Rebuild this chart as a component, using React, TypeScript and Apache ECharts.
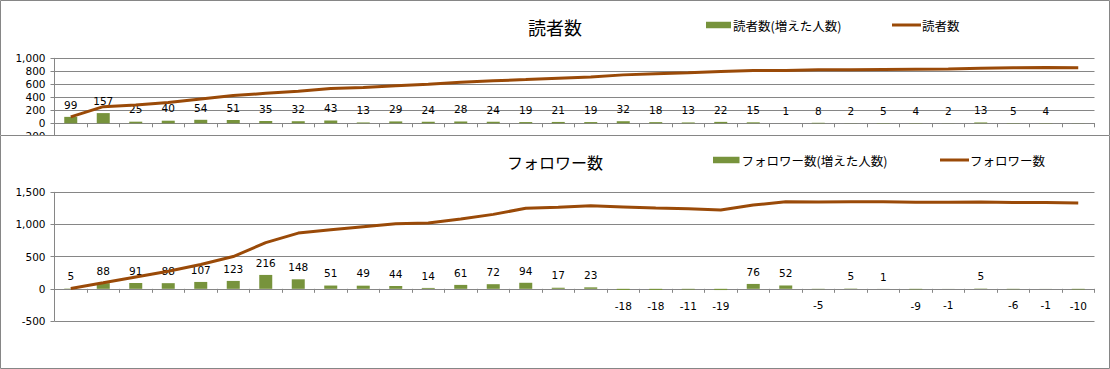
import React, { useEffect, useRef } from "react";
import * as echarts from "echarts";

const categories = ["1", "2", "3", "4", "5", "6", "7", "8", "9", "10", "11", "12", "13", "14", "15", "16", "17", "18", "19", "20", "21", "22", "23", "24", "25", "26", "27", "28", "29", "30", "31", "32"];

const readerGain = [99, 157, 25, 40, 54, 51, 35, 32, 43, 13, 29, 24, 28, 24, 19, 21, 19, 32, 18, 13, 22, 15, 1, 8, 2, 5, 4, 2, 13, 5, 4, -2];
const readerTotal = [99, 256, 281, 321, 375, 426, 461, 493, 536, 549, 578, 602, 630, 654, 673, 694, 713, 745, 763, 776, 798, 813, 814, 822, 824, 829, 833, 835, 848, 853, 857, 855];

const followerGain = [5, 88, 91, 88, 107, 123, 216, 148, 51, 49, 44, 14, 61, 72, 94, 17, 23, -18, -18, -11, -19, 76, 52, -5, 5, 1, -9, -1, 5, -6, -1, -10];
const followerTotal = [5, 93, 184, 272, 379, 502, 718, 866, 917, 966, 1010, 1024, 1085, 1157, 1251, 1268, 1291, 1273, 1255, 1244, 1225, 1301, 1353, 1348, 1353, 1354, 1345, 1344, 1349, 1343, 1342, 1332];

const readerTicks = { min: -200, max: 1000, interval: 200 };
const followerTicks = { min: -500, max: 1500, interval: 500 };

const GREEN = "#77933C";
const BROWN = "#9A4A08";
const GRID = "#868686";
const NUM_FONT = "'DejaVu Sans', 'Noto Sans CJK JP', sans-serif";
const JP_FONT = "'Noto Sans CJK JP', 'DejaVu Sans', sans-serif";

type Cfg = {
  title: string;
  titleSize: number;
  barName: string;
  lineName: string;
  gains: number[];
  totals: number[];
  ticks: { min: number; max: number; interval: number };
  gridTop: number;
  gridHeight: number;
  barLegendLeft: number;
  barLegendWidth: number;
  lineLegendLeft: number;
  borderHeight: number;
  bg?: string;
};

function buildOption(c: Cfg): any {
  return {
    animation: false,
    backgroundColor: c.bg || "transparent",
    title: {
      text: c.title,
      left: "center",
      top: 18,
      padding: 0,
      textStyle: { fontSize: c.titleSize, fontWeight: "normal", color: "#000", fontFamily: JP_FONT, lineHeight: 18 },
    },
    legend: [
      {
        data: [{ name: c.barName, icon: "rect" }],
        left: c.barLegendLeft,
        top: 18,
        padding: 0,
        itemWidth: c.barLegendWidth,
        itemHeight: 6.5,
        itemGap: 0,
        textStyle: { fontSize: 12.5, color: "#000", fontFamily: JP_FONT, lineHeight: 14, padding: [0, 0, 0, -3] },
        selectedMode: false,
      },
      {
        data: [{ name: c.lineName, icon: "rect" }],
        left: c.lineLegendLeft,
        top: 18,
        padding: 0,
        itemWidth: 29,
        itemHeight: 3,
        itemGap: 0,
        textStyle: { fontSize: 12.5, color: "#000", fontFamily: JP_FONT, lineHeight: 14, padding: [0, 0, 0, -4] },
        selectedMode: false,
      },
    ],
    grid: { left: 54.5, top: c.gridTop, width: 1040, height: c.gridHeight, containLabel: false },
    xAxis: {
      type: "category",
      data: categories,
      boundaryGap: true,
      axisLine: { show: true, onZero: true, lineStyle: { color: GRID, width: 1 } },
      axisTick: { show: true, interval: 0, length: 4, lineStyle: { color: GRID } },
      axisLabel: { show: false },
      splitLine: { show: false },
    },
    yAxis: {
      type: "value",
      min: c.ticks.min,
      max: c.ticks.max,
      interval: c.ticks.interval,
      axisLine: { show: true, lineStyle: { color: GRID, width: 1 } },
      axisTick: { show: true, length: 4, lineStyle: { color: GRID } },
      axisLabel: {
        fontSize: 10.5,
        color: "#000",
        fontFamily: NUM_FONT,
        margin: 9,
        formatter: (v: number) => v.toLocaleString("en-US"),
      },
      splitLine: { show: true, lineStyle: { color: GRID, width: 1 } },
    },
    graphic: [
      {
        type: "rect",
        silent: true,
        z: 100,
        shape: { x: 0.5, y: 0.5, width: 1109, height: c.borderHeight },
        style: { fill: "none", stroke: GRID, lineWidth: 1 },
      },
    ],
    series: [
      {
        name: c.barName,
        type: "bar",
        barWidth: 13,
        itemStyle: { color: GREEN },
        label: { show: true, position: "top", distance: 7, fontSize: 10.5, color: "#000", fontFamily: NUM_FONT },
        data: c.gains.map((v) =>
          v < 0 ? { value: v, label: { position: "bottom", distance: 11 } } : { value: v }
        ),
        z: 2,
      },
      {
        name: c.lineName,
        type: "line",
        data: c.totals,
        symbol: "none",
        smooth: false,
        lineStyle: { color: BROWN, width: 3 },
        itemStyle: { color: BROWN },
        z: 3,
      },
    ],
  };
}

function useChart(ref: React.RefObject<HTMLDivElement | null>, option: any) {
  useEffect(() => {
    if (!ref.current) return;
    const chart = echarts.init(ref.current, undefined, { renderer: "svg" });
    chart.setOption(option);
    return () => chart.dispose();
  }, []);
}

export default function App() {
  const topRef = useRef<HTMLDivElement>(null);
  const botRef = useRef<HTMLDivElement>(null);

  useChart(
    topRef,
    buildOption({
      title: "読者数",
      titleSize: 18,
      barName: "読者数(増えた人数)",
      lineName: "読者数",
      gains: readerGain,
      totals: readerTotal,
      ticks: readerTicks,
      gridTop: 58.3,
      gridHeight: 78,
      barLegendLeft: 706,
      barLegendWidth: 25,
      lineLegendLeft: 892,
      borderHeight: 400,
    })
  );

  useChart(
    botRef,
    buildOption({
      title: "フォロワー数",
      titleSize: 16,
      barName: "フォロワー数(増えた人数)",
      lineName: "フォロワー数",
      gains: followerGain,
      totals: followerTotal,
      ticks: followerTicks,
      gridTop: 57.3,
      gridHeight: 128.7,
      barLegendLeft: 713,
      barLegendWidth: 26.5,
      lineLegendLeft: 940,
      borderHeight: 233,
      bg: "#ffffff",
    })
  );

  return (
    <div style={{ position: "absolute", left: 0, top: 0, width: 1110, height: 369, background: "#fff", overflow: "hidden" }}>
      <div ref={topRef} style={{ position: "absolute", left: 0, top: 0, width: 1110, height: 170 }} />
      <div ref={botRef} style={{ position: "absolute", left: 0, top: 135, width: 1110, height: 234, background: "#fff" }} />
    </div>
  );
}
